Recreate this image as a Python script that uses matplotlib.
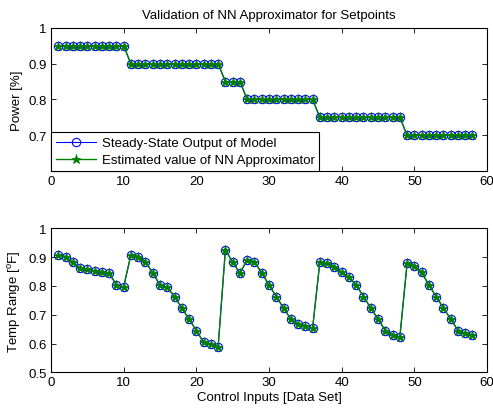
import matplotlib
matplotlib.use("Agg")
import matplotlib.pyplot as plt
import numpy as np

plt.rcParams["font.family"] = ["Liberation Sans", "DejaVu Sans"]
plt.rcParams["font.size"] = 9.5
plt.rcParams["mathtext.fontset"] = "custom"
plt.rcParams["mathtext.rm"] = "Liberation Sans"

# data set index
x = np.arange(1, 59)

# power setpoints (model output and NN estimate coincide)
power_model = [0.95] * 10 + [0.90] * 13 + [0.85] * 3 + [0.80] * 10 + [0.75] * 12 + [0.70] * 10
power_nn = list(power_model)

# temperature range
temp_model = [
    0.907, 0.902, 0.882, 0.861, 0.857, 0.853, 0.850, 0.845, 0.803, 0.797,
    0.908, 0.902, 0.884, 0.845, 0.803, 0.795, 0.763, 0.723, 0.685, 0.645,
    0.604, 0.598, 0.589, 0.925, 0.882, 0.844, 0.891, 0.884, 0.845, 0.803,
    0.763, 0.723, 0.685, 0.668, 0.662, 0.654, 0.884, 0.878, 0.867, 0.847,
    0.830, 0.803, 0.763, 0.723, 0.685, 0.645, 0.630, 0.622, 0.878, 0.870,
    0.847, 0.803, 0.763, 0.723, 0.685, 0.645, 0.636, 0.630,
]
temp_nn = list(temp_model)

labels = ["Steady-State Output of Model", "Estimated value of NN Approximator"]
xticks = [0, 10, 20, 30, 40, 50, 60]

fig = plt.figure(figsize=(4.93, 4.10), dpi=100)
ax1 = fig.add_axes([0.1034, 0.5805, 0.8845, 0.3488])
ax2 = fig.add_axes([0.1034, 0.0895, 0.8845, 0.3512])


def draw(ax, y_model, y_nn):
    ax.plot(x, y_model, color="#0000ff", linewidth=0.8, marker="o",
            markersize=6, markerfacecolor="none", markeredgewidth=0.8,
            label=labels[0])
    ax.plot(x, y_nn, color="#008000", linewidth=1.0, marker="*",
            markersize=6.5, markeredgewidth=0.6, label=labels[1])
    ax.set_xlim(0, 60)
    ax.set_xticks(xticks)
    ax.tick_params(direction="in", top=True, right=True, length=3.5,
                   width=0.6, labelsize=9.5, colors="black", pad=3)
    for s in ax.spines.values():
        s.set_linewidth(0.8)


draw(ax1, power_model, power_nn)
ax1.set_ylim(0.6, 1.0)
ax1.set_yticks([0.7, 0.8, 0.9, 1.0])
ax1.set_yticklabels(["0.7", "0.8", "0.9", "1"])
ax1.set_ylabel("Power [%]", fontsize=9.5)
ax1.set_title("Validation of NN Approximator for Setpoints", fontsize=9.5, pad=7)
leg = ax1.legend(loc="lower left", borderaxespad=0, fancybox=False,
                 framealpha=1, edgecolor="black", fontsize=9.5,
                 handlelength=3.1, handletextpad=0.4, borderpad=0.35,
                 labelspacing=0.4, handleheight=0.6)
leg.get_frame().set_linewidth(0.8)

draw(ax2, temp_model, temp_nn)
ax2.set_ylim(0.5, 1.0)
ax2.set_yticks([0.5, 0.6, 0.7, 0.8, 0.9, 1.0])
ax2.set_yticklabels(["0.5", "0.6", "0.7", "0.8", "0.9", "1"])
ax2.set_ylabel(r"Temp Range [$^{\mathrm{o}}$F]", fontsize=9.5)
ax2.set_xlabel("Control Inputs [Data Set]", fontsize=9.5, labelpad=2)

fig.savefig("out.png", dpi=100, facecolor="white")
